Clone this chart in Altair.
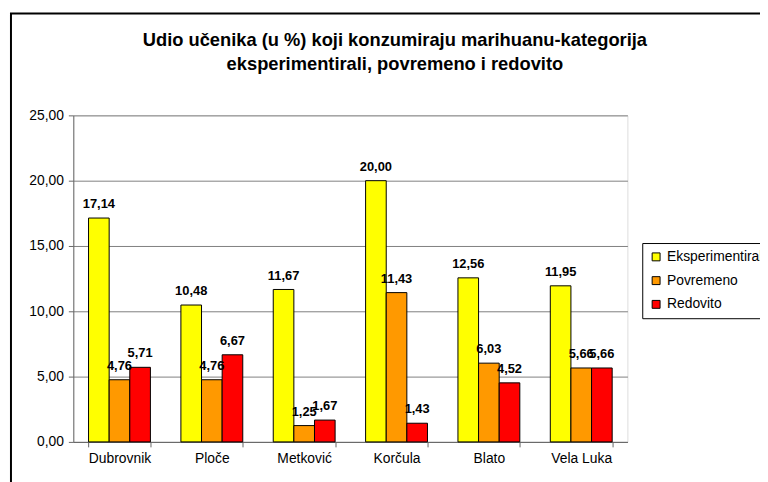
import altair as alt
import pandas as pd

cities = ["Dubrovnik", "Ploče", "Metković", "Korčula", "Blato", "Vela Luka"]
series = ["Eksperimentirali", "Povremeno", "Redovito"]
eksperimentirali = [17.14, 10.48, 11.67, 20.00, 12.56, 11.95]
povremeno = [4.76, 4.76, 1.25, 11.43, 6.03, 5.66]
redovito = [5.71, 6.67, 1.67, 1.43, 4.52, 5.66]
colors = ["#FFFF00", "#FF9900", "#FF0000"]
title_lines = ["Udio učenika (u %) koji konzumiraju marihuanu-kategorija",
               "eksperimentirali, povremeno i redovito"]

rows = []
for i, c in enumerate(cities):
    for s, vals in zip(series, [eksperimentirali, povremeno, redovito]):
        rows.append({"grad": c, "serija": s, "vrijednost": vals[i]})
df = pd.DataFrame(rows)

FONT = "Liberation Sans"

base = alt.Chart(df).transform_calculate(
    lab="replace(format(datum.vrijednost, '.2f'), '.', ',')"
)

x = alt.X("grad:N", sort=cities, title=None,
          scale=alt.Scale(paddingInner=0.33, paddingOuter=0.165),
          axis=alt.Axis(labelAngle=0, tickBand="extent", tickSize=5,
                        labelPadding=5, labelFontSize=14, labelColor="black",
                        labelFont=FONT, domainColor="#666666",
                        tickColor="#666666", grid=False))
xo = alt.XOffset("serija:N", sort=series)
y = alt.Y("vrijednost:Q", title=None,
          scale=alt.Scale(domain=[0, 25], nice=False),
          axis=alt.Axis(values=[0, 5, 10, 15, 20, 25],
                        labelExpr="replace(format(datum.value, '.2f'), '.', ',')",
                        tickSize=5, labelPadding=5, labelFontSize=14,
                        labelColor="black", labelFont=FONT,
                        domainColor="#666666", tickColor="#666666",
                        gridColor="#808080", gridOpacity=1, gridWidth=1))

bars = base.mark_bar(stroke="black", strokeWidth=1).encode(
    x=x, xOffset=xo, y=y,
    color=alt.Color("serija:N", sort=series, title=None,
                    scale=alt.Scale(domain=series, range=colors),
                    legend=alt.Legend(orient="none", legendX=575, legendY=129,
                                      strokeColor="black", padding=7,
                                      fillColor="white",
                                      symbolType="square", symbolSize=64,
                                      symbolStrokeColor="black",
                                      symbolStrokeWidth=1, symbolOpacity=1,
                                      labelFontSize=14, labelFont=FONT,
                                      labelColor="black", rowPadding=10,
                                      labelOffset=4, labelLimit=300)),
)

labels = base.mark_text(fontWeight="bold", fontSize=13, font=FONT,
                        baseline="bottom", dy=-7, color="black").encode(
    x=alt.X("grad:N", sort=cities), xOffset=xo,
    y="vrijednost:Q", text="lab:N")

frame = alt.Chart(alt.Data(values=[{}])).mark_rect(
    filled=False, stroke="black", strokeWidth=2).encode(
    x=alt.value(-63), x2=alt.value(900), y=alt.value(-103), y2=alt.value(700))

title1 = alt.Chart(alt.Data(values=[{"t": title_lines[0]}])).mark_text(
    font=FONT, fontSize=18.5, fontWeight="bold", color="black",
    align="center", baseline="middle").encode(
    x=alt.value(325), y=alt.value(-76), text="t:N")
title2 = alt.Chart(alt.Data(values=[{"t": title_lines[1]}])).mark_text(
    font=FONT, fontSize=18.5, fontWeight="bold", color="black",
    align="center", baseline="middle").encode(
    x=alt.value(325), y=alt.value(-52), text="t:N")

chart = alt.layer(bars, labels, frame, title1, title2).properties(
    width=560, height=330,
    autosize="none",
    padding={"left": 66, "top": 106, "right": 134, "bottom": 38},
).configure_view(fill="#FFFFCC", stroke="#808080").configure(background="white")

chart.save("out.html", embed_options={"renderer": "svg", "actions": False})
